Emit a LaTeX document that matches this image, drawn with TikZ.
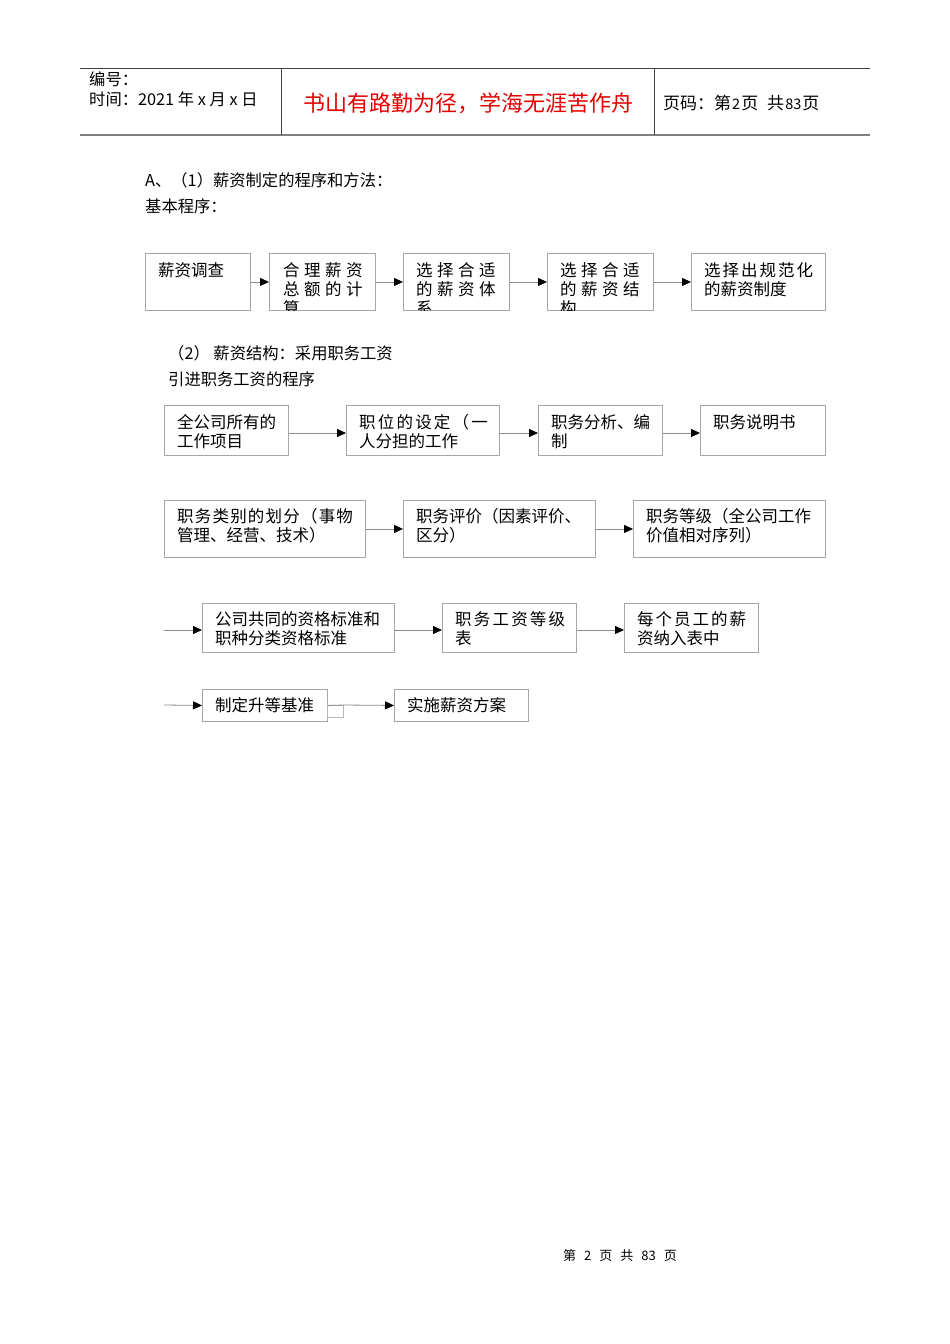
\documentclass[tikz,border=0pt]{standalone}
\usepackage{fontspec}
\setmainfont{Noto Sans CJK SC}
\usetikzlibrary{arrows.meta}
\definecolor{boxgray}{HTML}{A6A6A6}
\definecolor{linegray}{HTML}{8C8C8C}
\definecolor{titlered}{HTML}{E60000}
\newcommand{\mkbox}[5]{\node[box,anchor=north west,minimum width={(#4-#2)*1pt},minimum height={(#5-#3)*1pt}] (#1) at (#2,#3) {};}
\newcommand{\gp}[1]{\hspace{#1pt}}
\begin{document}
\begin{tikzpicture}[x=1pt,y=-1pt,
  box/.style={draw=boxgray,line width=0.9pt,inner sep=0pt,fill=white},
  txt/.style={inner sep=0pt,anchor=north west,align=left,font=\fontsize{16.5}{19}\selectfont},
  plain/.style={inner sep=0pt,anchor=north west,align=left,font=\fontsize{16.3}{26}\selectfont},
  conn/.style={draw=linegray,line width=0.8pt,-{Triangle[black,length=9pt,width=8pt]}}]
\useasboundingbox (0,0) rectangle (950,1344);
\fill[white] (0,0) rectangle (950,1344);
% header
\draw[black!75,line width=0.8pt] (80,68) -- (870,68);
\draw[black!50,line width=1.8pt] (80,135) -- (870,135);
\draw[black!75,line width=0.8pt] (281,68) -- (281,135);
\draw[black!75,line width=0.8pt] (654,68) -- (654,135);
\node[plain,font=\fontsize{16.3}{20}\selectfont] (h1) at (89,72) {编号：\\时间：2021 年 x 月 x 日};
\node[inner sep=0pt,text=titlered,font=\fontsize{22}{24}\selectfont] (h2) at (468,103) {书山有路勤为径，学海无涯苦作舟};
\node[inner sep=0pt,anchor=west,font=\fontsize{17}{18}\selectfont] (h3) at (663,103) {页码：第{\fontsize{14.5}{15}\selectfont\gp{1}2\gp{1}}页\gp{9}共{\fontsize{14.5}{15}\selectfont\gp{1}83\gp{1}}页};
% intro text
\node[plain] (p1) at (145,172) {A、（1）薪资制定的程序和方法：\\基本程序：};
% row 1
\mkbox{r1a}{145}{253}{250}{310}
\mkbox{r1b}{269}{253}{375}{310}
\mkbox{r1c}{403}{253}{509}{310}
\mkbox{r1d}{547}{253}{653}{310}
\mkbox{r1e}{691}{253}{825}{310}
\node[txt] (t1a) at (158,262) {薪资调查};
\begin{scope}\clip (r1b.north west) rectangle (r1b.south east);
\node[txt] (t1b) at (283,262) {合\gp{4.5}理\gp{4.5}薪\gp{4.5}资\\总\gp{4.5}额\gp{4.5}的\gp{4.5}计\\算};
\end{scope}
\begin{scope}\clip (r1c.north west) rectangle (r1c.south east);
\node[txt] (t1c) at (416,262) {选\gp{4.5}择\gp{4.5}合\gp{4.5}适\\的\gp{4.5}薪\gp{4.5}资\gp{4.5}体\\系};
\end{scope}
\begin{scope}\clip (r1d.north west) rectangle (r1d.south east);
\node[txt] (t1d) at (560,262) {选\gp{4.5}择\gp{4.5}合\gp{4.5}适\\的\gp{4.5}薪\gp{4.5}资\gp{4.5}结\\构};
\end{scope}
\node[txt] (t1e) at (704,262) {选\gp{2}择\gp{2}出\gp{2}规\gp{2}范\gp{2}化\\的薪资制度};
\draw[conn] (r1a.east) -- (r1b.west);
\draw[conn] (r1b.east) -- (r1c.west);
\draw[conn] (r1c.east) -- (r1d.west);
\draw[conn] (r1d.east) -- (r1e.west);
% section 2 text
\node[plain] (p2) at (168,345) {（2）\ 薪资结构：采用职务工资\\引进职务工资的程序};
% row 2
\mkbox{r2a}{164}{405}{288}{455}
\mkbox{r2b}{346}{405}{499}{455}
\mkbox{r2c}{538}{405}{662}{455}
\mkbox{r2d}{700}{405}{825}{455}
\node[txt] (t2a) at (177,414) {全公司所有的\\工作项目};
\node[txt] (t2b) at (359,414) {职\gp{2.2}位\gp{2.2}的\gp{2.2}设\gp{2.2}定\gp{2.2}（\gp{2.2}一\\人分担的工作};
\node[txt] (t2c) at (551,414) {职务分析、编\\制};
\node[txt] (t2d) at (713,414) {职务说明书};
\draw[conn] (r2a.east |- 0,433) -- (r2b.west |- 0,433);
\draw[conn] (r2b.east |- 0,433) -- (r2c.west |- 0,433);
\draw[conn] (r2c.east |- 0,433) -- (r2d.west |- 0,433);
% row 3
\mkbox{r3a}{164}{500}{365}{557}
\mkbox{r3b}{403}{500}{595}{557}
\mkbox{r3c}{633}{500}{825}{557}
\node[txt] (t3a) at (177,508) {职\gp{1.2}务\gp{1.2}类\gp{1.2}别\gp{1.2}的\gp{1.2}划\gp{1.2}分\gp{1.2}（\gp{1.2}事\gp{1.2}物\\管理、经营、技术）};
\node[txt] (t3b) at (416,508) {职务评价（因素评价、\\区分）};
\node[txt] (t3c) at (646,508) {职务等级（全公司工作\\价值相对序列）};
\draw[conn] (r3a.east) -- (r3b.west);
\draw[conn] (r3b.east) -- (r3c.west);
% row 4
\coordinate (s4) at (164,630);
\mkbox{r4a}{202}{603}{394}{652}
\mkbox{r4b}{442}{603}{576}{652}
\mkbox{r4c}{624}{603}{758}{652}
\node[txt] (t4a) at (215,611) {公司共同的资格标准和\\职种分类资格标准};
\node[txt] (t4b) at (455,611) {职\gp{2.2}务\gp{2.2}工\gp{2.2}资\gp{2.2}等\gp{2.2}级\\表};
\node[txt] (t4c) at (637,611) {每\gp{2}个\gp{2}员\gp{2}工\gp{2}的\gp{2}薪\\资纳入表中};
\draw[conn] (s4) -- (r4a.west |- s4);
\draw[conn] (r4a.east |- s4) -- (r4b.west |- s4);
\draw[conn] (r4b.east |- s4) -- (r4c.west |- s4);
% row 5
\coordinate (s5) at (164,705);
\mkbox{r5a}{202}{689}{327}{721}
\mkbox{r5b}{394}{689}{528}{721}
\node[box,anchor=north west,minimum width=16pt,minimum height=12pt,draw=boxgray!80] (tab) at (327,705) {};
\node[txt] (t5a) at (215,697) {制定升等基准};
\node[txt] (t5b) at (407,697) {实施薪资方案};
\draw[conn] (s5) -- (r5a.west);
\draw[draw=linegray,line width=0.8pt] (r5a.east) -- (tab.north east);
\draw[conn] (tab.north east) -- (r5b.west);
% footer
\node[inner sep=0pt,font=\fontsize{13}{15}\selectfont] (ft) at (620,1256) {第\gp{8}2\gp{8}页\gp{8}共\gp{8}83\gp{8}页};
\end{tikzpicture}
\end{document}
